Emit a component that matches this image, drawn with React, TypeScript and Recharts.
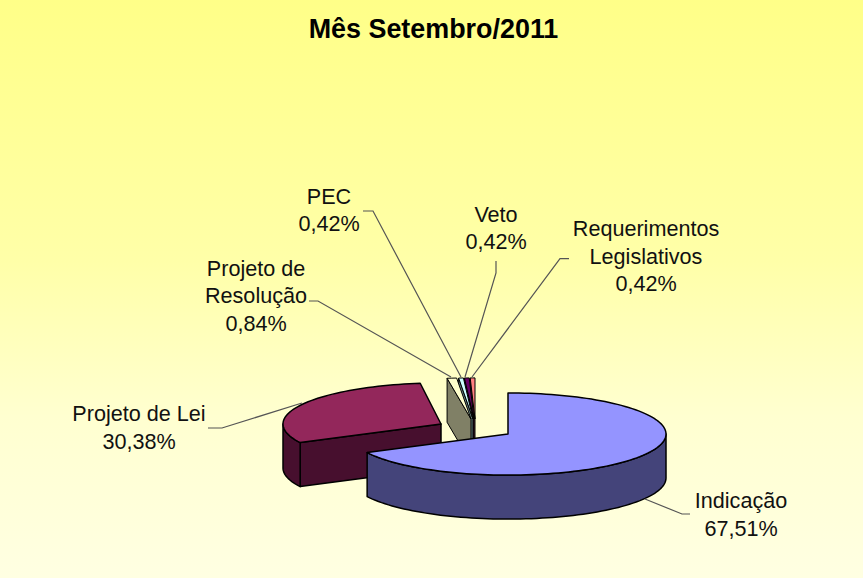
import { Pie, PieChart } from "recharts"

const CATEGORIES = ["Requerimentos Legislativos", "Veto", "PEC", "Projeto de Resolução", "Projeto de Lei", "Indicação"]
const VALUES = [0.42, 0.42, 0.42, 0.84, 30.38, 67.51]
const LABEL_LINES = [["Requerimentos", "Legislativos"], ["Veto"], ["PEC"], ["Projeto de", "Resolução"], ["Projeto de Lei"], ["Indicação"]]
const COLORS = ["#ff8080", "#660066", "#ccffff", "#ffffcc", "#93275b", "#9494ff"]
const SIDE_COLORS = ["#804040", "#330033", "#668080", "#808066", "#470f2e", "#44447a"]

// how far each slice was pulled out of the pie, px
const EXPLODE = [[-32, -15], [-33, -15], [-34, -15], [-36, -15], [-66, -10], [1, 0]]
// the far slices look wider in the original's perspective
const WIDEN = [1.15, 1.15, 1.15, 1.15, 1, 1]
// text centre x, first baseline y
const LABEL_POS = [[646, 236], [496, 221.5], [329, 203.5], [256, 275.6], [139, 421], [741, 508]]
const LEADERS = [
    [[569, 258.6], [560, 258.6], [472, 377]],
    [[496, 261], [496, 273], [465, 377]],
    [[363, 211], [373, 211], [461, 377]],
    [[309, 301], [318, 301], [451, 377]],
    [[208, 428], [222, 428], [302, 403]],
    [[645, 499], [682, 514], [690, 514]],
]

const TILT = 0.26
const DEPTH = 44
const FONT = "'Liberation Sans', Arial, sans-serif"

const data = CATEGORIES.map((name, i) => ({ name, value: VALUES[i] }))

const formatPct = (v: number) => v.toFixed(2).replace(".", ",") + "%"

const Slice3D = (props: any) => {
    const { cx, cy, outerRadius, startAngle, endAngle, index } = props
    const ox = cx + EXPLODE[index][0]
    const oy = cy + EXPLODE[index][1]
    // clockwise from 12 o'clock
    const t0 = 450 - endAngle
    const t1 = 450 - startAngle
    const pt = (t: number, dy = 0): [number, number] => {
        const r = (t * Math.PI) / 180
        return [ox + outerRadius * WIDEN[index] * Math.sin(r), oy - outerRadius * TILT * Math.cos(r) + dy]
    }
    const arc = (a: number, b: number, dy: number) => {
        let d = ""
        const steps = Math.max(2, Math.ceil(Math.abs(b - a) / 2))
        for (let i = 0; i <= steps; i++) {
            const p = pt(a + ((b - a) * i) / steps, dy)
            d += `L${p[0]} ${p[1]}`
        }
        return d
    }
    const side = SIDE_COLORS[index]
    const wall = (t: number) => {
        const p = pt(t)
        return `M${ox} ${oy}L${p[0]} ${p[1]}L${p[0]} ${p[1] + DEPTH}L${ox} ${oy + DEPTH}Z`
    }
    const rimFrom = Math.max(t0, 90)
    const rimTo = Math.min(t1, 270)
    const stroke = { stroke: "#000", strokeWidth: index < 4 ? 1 : 1.5, strokeLinejoin: "round" as const }
    return (
        <g>
            {Math.sin((t0 * Math.PI) / 180) < -0.01 && <path d={wall(t0)} fill={side} {...stroke} />}
            {Math.sin((t1 * Math.PI) / 180) > 0.01 && <path d={wall(t1)} fill={side} {...stroke} />}
            {rimFrom < rimTo && (
                <path d={"M" + arc(rimFrom, rimTo, 0).slice(1) + arc(rimTo, rimFrom, DEPTH) + "Z"} fill={side} {...stroke} />
            )}
            <path d={`M${ox} ${oy}${arc(t0, t1, 0)}Z`} fill={COLORS[index]} {...stroke} />
        </g>
    )
}

const renderLabel = ({ index }: any) => {
    const [x, y] = LABEL_POS[index]
    const lines = [...LABEL_LINES[index], formatPct(VALUES[index])]
    return (
        <text key={index} x={x} y={y} fill="#111" textAnchor="middle" fontSize={21.6} fontFamily={FONT}>
            {lines.map((l, i) => (
                <tspan key={i} x={x} y={y + i * 27.7}>{l}</tspan>
            ))}
        </text>
    )
}

const renderLeader = ({ index }: any) => (
    <polyline
        key={index}
        points={LEADERS[index].map((p) => p.join(",")).join(" ")}
        fill="none"
        stroke="#555"
        strokeWidth={1.2}
    />
)

export default function App() {
    return (
        <div
            style={{
                position: "absolute",
                left: 0,
                top: 0,
                width: 863,
                height: 578,
                background: "linear-gradient(#ffff88, #ffffa8 45%, #ffffd0 72%, #ffffe2)",
            }}
        >
            <PieChart width={863} height={578} margin={{ top: 0, right: 0, bottom: 0, left: 0 }}>
                <text x={433.5} y={38} textAnchor="middle" fontSize={26.9} fontWeight="bold" fontFamily={FONT} fill="#000">
                    Mês Setembro/2011
                </text>
                <Pie
                    data={data}
                    dataKey="value"
                    nameKey="name"
                    cx={507}
                    cy={434}
                    innerRadius={0}
                    outerRadius={158}
                    startAngle={90}
                    endAngle={450}
                    stroke="none"
                    shape={Slice3D}
                    label={renderLabel}
                    labelLine={renderLeader}
                    isAnimationActive={false}
                />
            </PieChart>
        </div>
    )
}
